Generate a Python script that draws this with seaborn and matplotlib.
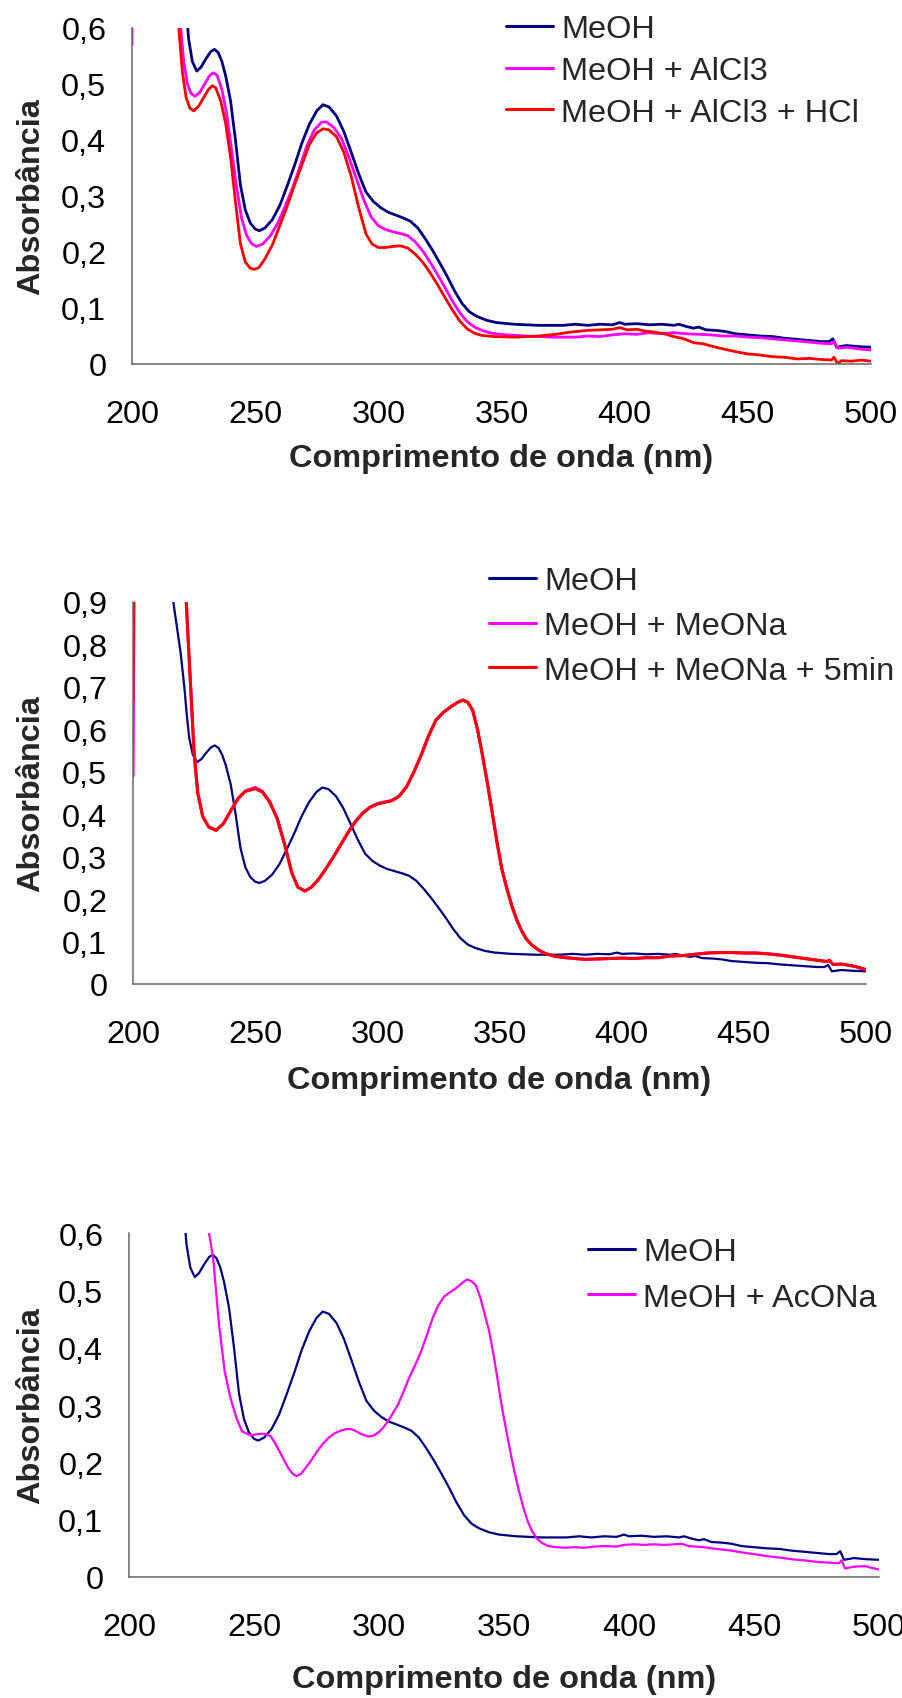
import numpy as np
import pandas as pd
import matplotlib
matplotlib.use("Agg")
import matplotlib.pyplot as plt
import seaborn as sns

# ---------------------------------------------------------------- data
# UV spectrum in methanol (shared by the three panels)
meoh_wl = [214, 216.5, 218, 219.5, 221, 222, 223, 224.5, 226.3, 228, 230, 232, 233.5, 235,
           236.5, 238, 240, 242, 244, 246, 248, 250, 251.7, 254, 257, 260, 263, 266, 269,
           272, 275, 277.5, 280, 283, 286, 289, 292, 295, 298, 301, 304, 307, 310, 313,
           316, 319, 322, 325, 328, 331, 334, 337, 340, 344, 348, 355, 365, 375, 380, 385,
           390, 395, 398, 400, 405, 410, 415, 420, 422, 425, 428, 430, 433, 437, 441, 445,
           450, 455, 460, 465, 470, 475, 480, 483, 484.5, 486, 490, 495, 500]
meoh_abs = [1.05, 0.90, 0.84, 0.78, 0.70, 0.635, 0.580, 0.540, 0.523, 0.530, 0.545, 0.558,
            0.562, 0.556, 0.540, 0.515, 0.470, 0.400, 0.320, 0.275, 0.252, 0.241, 0.238,
            0.243, 0.258, 0.283, 0.318, 0.355, 0.395, 0.428, 0.452, 0.463, 0.459, 0.443,
            0.415, 0.378, 0.340, 0.307, 0.290, 0.279, 0.271, 0.266, 0.261, 0.255, 0.243,
            0.224, 0.203, 0.180, 0.156, 0.130, 0.108, 0.093, 0.085, 0.078, 0.074, 0.071,
            0.069, 0.069, 0.071, 0.069, 0.071, 0.070, 0.074, 0.071, 0.072, 0.070, 0.071,
            0.069, 0.071, 0.067, 0.064, 0.066, 0.061, 0.060, 0.058, 0.054, 0.052, 0.050,
            0.049, 0.046, 0.044, 0.042, 0.040, 0.040, 0.045, 0.030, 0.033, 0.031, 0.030]

# MeOH + AlCl3
alcl3_wl = [200, 201, 216, 218, 219.8, 221, 222.5, 224, 225.6, 227.5, 229.5, 231.5, 233,
            234.5, 236.5, 238.5, 240.5, 242.5, 244.5, 246.5, 248.5, 250.5, 253, 256, 259,
            262, 265, 268, 271, 274, 277, 279, 282, 285, 288, 291, 294, 297, 300, 303, 306,
            309, 312, 315, 318, 321, 324, 327, 330, 333, 336, 339, 342, 346, 352, 360, 370,
            380, 385, 390, 395, 400, 405, 410, 415, 420, 425, 430, 435, 440, 445, 450, 455,
            460, 465, 470, 475, 480, 484, 485, 486.5, 490, 495, 500]
alcl3_abs = [0.57, 1.5, 1.0, 0.75, 0.60, 0.54, 0.50, 0.483, 0.478, 0.485, 0.500, 0.515,
             0.520, 0.516, 0.490, 0.445, 0.380, 0.315, 0.260, 0.230, 0.215, 0.210, 0.214,
             0.228, 0.250, 0.280, 0.312, 0.350, 0.390, 0.418, 0.432, 0.432, 0.422, 0.403,
             0.370, 0.332, 0.294, 0.263, 0.247, 0.240, 0.236, 0.233, 0.229, 0.218, 0.202,
             0.182, 0.160, 0.137, 0.113, 0.092, 0.076, 0.066, 0.060, 0.055, 0.052, 0.050,
             0.048, 0.048, 0.050, 0.049, 0.052, 0.054, 0.053, 0.056, 0.054, 0.056, 0.054,
             0.053, 0.052, 0.050, 0.050, 0.048, 0.047, 0.045, 0.043, 0.041, 0.039, 0.037,
             0.036, 0.040, 0.028, 0.030, 0.027, 0.025]

# MeOH + AlCl3 + HCl
hcl_wl = [210, 216, 217.5, 219, 220.5, 222, 223.5, 225, 227, 229, 231, 232.6, 234, 236,
          238, 240, 242, 244, 246, 248, 249.6, 251.5, 254, 257, 260, 263, 266, 269, 272,
          275, 277.6, 280, 283, 286, 289, 292, 295, 297.5, 300, 303, 306, 309, 312, 315,
          318, 321, 324, 327, 330, 333, 336, 339, 342, 347, 356, 365, 372, 378, 385, 390,
          395, 398, 401, 405, 408, 412, 416, 420, 424, 428, 432, 436, 440, 445, 450, 455,
          460, 465, 470, 475, 480, 484, 485, 486.5, 488, 492, 496, 500]
hcl_abs = [1.3, 0.95, 0.75, 0.60, 0.52, 0.475, 0.457, 0.452, 0.460, 0.475, 0.490, 0.497,
           0.493, 0.470, 0.430, 0.370, 0.290, 0.215, 0.182, 0.171, 0.169, 0.172, 0.188,
           0.213, 0.247, 0.282, 0.320, 0.356, 0.392, 0.413, 0.420, 0.418, 0.406, 0.378,
           0.335, 0.280, 0.232, 0.214, 0.208, 0.208, 0.210, 0.211, 0.207, 0.196, 0.182,
           0.163, 0.142, 0.119, 0.097, 0.077, 0.063, 0.055, 0.051, 0.049, 0.048, 0.050,
           0.053, 0.057, 0.060, 0.061, 0.062, 0.065, 0.061, 0.062, 0.059, 0.057, 0.054,
           0.049, 0.045, 0.038, 0.036, 0.031, 0.027, 0.022, 0.018, 0.016, 0.013, 0.012,
           0.009, 0.010, 0.008, 0.007, 0.012, 0.000, 0.006, 0.005, 0.007, 0.005]

# MeOH + MeONa and MeOH + MeONa after 5 min
meona_wl = [200, 201, 215, 220, 221.8, 223.5, 225, 226.5, 228.5, 231, 234, 237, 240, 243,
            246, 250, 253, 256, 259, 262, 265, 267.5, 270.4, 273, 276, 279, 282, 285, 288,
            291, 294, 297, 300, 303, 306, 309, 312, 315, 318, 321, 324, 327, 330, 333, 335,
            337, 339, 341, 343, 345, 347, 349, 351, 353, 355, 357, 359, 361, 363, 366, 369,
            373, 377, 381, 385, 390, 395, 400, 405, 410, 415, 420, 425, 430, 435, 440, 445,
            450, 455, 460, 465, 470, 475, 480, 484, 485, 486.5, 490, 495, 500]
meona_abs = [0.49, 1.6, 1.2, 0.99, 0.90, 0.71, 0.545, 0.450, 0.395, 0.370, 0.362, 0.378,
             0.408, 0.437, 0.455, 0.463, 0.454, 0.429, 0.390, 0.330, 0.262, 0.228, 0.219,
             0.228, 0.247, 0.272, 0.299, 0.328, 0.357, 0.383, 0.403, 0.417, 0.425, 0.429,
             0.432, 0.443, 0.465, 0.500, 0.540, 0.585, 0.622, 0.640, 0.653, 0.664, 0.669,
             0.664, 0.645, 0.600, 0.540, 0.475, 0.405, 0.333, 0.270, 0.225, 0.185, 0.152,
             0.126, 0.106, 0.093, 0.080, 0.071, 0.065, 0.062, 0.060, 0.058, 0.059, 0.060,
             0.061, 0.060, 0.062, 0.062, 0.066, 0.067, 0.070, 0.073, 0.074, 0.074, 0.073,
             0.073, 0.071, 0.068, 0.064, 0.060, 0.056, 0.053, 0.056, 0.046, 0.047, 0.042,
             0.034]
meona5_abs = [0.67, 1.6, 1.2, 0.99, 0.90, 0.71, 0.545, 0.450, 0.395, 0.370, 0.362, 0.378,
              0.408, 0.437, 0.454, 0.460, 0.452, 0.428, 0.390, 0.330, 0.262, 0.228, 0.219,
              0.228, 0.247, 0.272, 0.299, 0.328, 0.357, 0.382, 0.402, 0.416, 0.424, 0.428,
              0.432, 0.443, 0.465, 0.500, 0.540, 0.585, 0.622, 0.640, 0.653, 0.664, 0.669,
              0.664, 0.645, 0.600, 0.540, 0.475, 0.405, 0.333, 0.270, 0.225, 0.185, 0.152,
              0.126, 0.106, 0.093, 0.080, 0.071, 0.065, 0.062, 0.060, 0.058, 0.059, 0.060,
              0.061, 0.060, 0.062, 0.062, 0.066, 0.067, 0.070, 0.073, 0.074, 0.074, 0.073,
              0.073, 0.071, 0.068, 0.064, 0.060, 0.056, 0.053, 0.056, 0.046, 0.047, 0.042,
              0.034]

# MeOH + AcONa
acona_wl = [226, 230, 232, 233.7, 236, 238.3, 240.6, 243, 245.2, 248.7, 251, 253.3, 255,
            256.8, 258.5, 260.2, 262, 263.7, 265.5, 267, 268.8, 270.6, 273, 275.2, 277.5,
            279.9, 282, 284.5, 287, 289, 291, 293, 296, 298, 300, 302, 304.5, 307.5, 310,
            312, 314.5, 316.8, 319, 321.4, 323.5, 326, 328.5, 330.6, 333, 335.2, 337, 338.7,
            340.5, 342, 344, 345.6, 347.3, 349, 350.8, 352.5, 354.2, 356, 357.8, 359.5,
            361.2, 363, 365, 367.6, 371, 374.5, 378, 382, 386, 390.6, 395, 398, 402, 406,
            410, 414, 418, 421, 424, 427, 430, 433, 437, 441, 445, 450, 455, 460, 465, 470,
            476, 480, 484, 485, 486.4, 490, 494.5, 497, 500]
acona_abs = [1.0, 0.75, 0.60, 0.555, 0.440, 0.358, 0.312, 0.277, 0.254, 0.247, 0.249,
             0.250, 0.249, 0.245, 0.233, 0.219, 0.204, 0.190, 0.180, 0.176, 0.180, 0.190,
             0.204, 0.219, 0.232, 0.243, 0.250, 0.255, 0.258, 0.258, 0.254, 0.249, 0.245,
             0.247, 0.253, 0.262, 0.278, 0.300, 0.325, 0.347, 0.370, 0.393, 0.420, 0.451,
             0.472, 0.489, 0.497, 0.503, 0.512, 0.519, 0.516, 0.509, 0.488, 0.463, 0.430,
             0.393, 0.348, 0.300, 0.258, 0.219, 0.183, 0.150, 0.120, 0.097, 0.080, 0.068,
             0.060, 0.054, 0.052, 0.051, 0.052, 0.051, 0.053, 0.054, 0.053, 0.056, 0.057,
             0.056, 0.057, 0.056, 0.057, 0.058, 0.054, 0.053, 0.052, 0.050, 0.048, 0.046,
             0.043, 0.040, 0.0365, 0.034, 0.031, 0.029, 0.026, 0.025, 0.024, 0.029, 0.015,
             0.018, 0.019, 0.016, 0.013]

x_ticks = [200, 250, 300, 350, 400, 450, 500]
y_ticks_06 = [0, 0.1, 0.2, 0.3, 0.4, 0.5, 0.6]
y_ticks_09 = [0, 0.1, 0.2, 0.3, 0.4, 0.5, 0.6, 0.7, 0.8, 0.9]

NAVY, MAGENTA, RED = "#000080", "#FF00FF", "#FF0000"

# ---------------------------------------------------------------- style
sns.set_style("white")
plt.rcParams["font.family"] = ["Liberation Sans", "DejaVu Sans"]
FS = 23.4

W, H = 902, 1699
fig = plt.figure(figsize=(W / 100, H / 100), dpi=100)


def make_axes(left, right, top, bottom):
    return fig.add_axes([left / W, 1 - bottom / H, (right - left) / W, (bottom - top) / H])


def dec_label(v):
    return "0" if v == 0 else f"{v:.1f}".replace(".", ",")


def style_axes(ax, ymax, yticks, px_box, xlab_off):
    left, right, top, bottom = px_box
    ax.set_xlim(200, 500)
    ax.set_ylim(0, ymax)
    ax.set_xticks(x_ticks)
    ax.set_xticklabels([str(t) for t in x_ticks])
    ax.set_yticks(yticks)
    ax.set_yticklabels([dec_label(t) for t in yticks])
    for s in ("top", "right"):
        ax.spines[s].set_visible(False)
    for s in ("left", "bottom"):
        ax.spines[s].set_color("#666666")
        ax.spines[s].set_linewidth(1.1)
    ax.tick_params(axis="both", direction="out", length=7.5, width=1.1,
                   color="#444444", labelsize=FS, labelcolor="black")
    ax.tick_params(axis="y", pad=11)
    ax.tick_params(axis="x", pad=18)
    ax.grid(False)
    ax.set_facecolor("white")
    ax.set_xlabel("Comprimento de onda (nm)", fontsize=FS, fontweight="bold")
    ax.set_ylabel("Absorbância", fontsize=FS, fontweight="bold")
    h = bottom - top
    w = right - left
    ax.xaxis.set_label_coords(0.5, -xlab_off / h)
    ax.xaxis.label.set_verticalalignment("center")
    ax.yaxis.set_label_coords(-(left - 31) / w, 0.5)
    ax.yaxis.label.set_verticalalignment("center")


def series(ax, wl, ab, color, lw, label):
    df = pd.DataFrame({"wl": wl, "abs": ab})
    sns.lineplot(data=df, x="wl", y="abs", ax=ax, color=color, linewidth=lw,
                 label=label, sort=False, estimator=None)


def place_legend(ax, x_px, yc_px, spacing):
    leg = ax.legend(loc="center left", bbox_to_anchor=(x_px / W, 1 - yc_px / H),
                    bbox_transform=fig.transFigure, frameon=False, fontsize=FS,
                    handlelength=1.45, handletextpad=0.25, labelspacing=spacing,
                    borderpad=0, borderaxespad=0)
    for line in leg.get_lines():
        line.set_linewidth(2.2)


# ---------------------------------------------------------------- panel 1: AlCl3 / HCl
box1 = (132, 871, 29, 365)
ax1 = make_axes(*box1)
series(ax1, meoh_wl, meoh_abs, NAVY, 2.0, "MeOH")
series(ax1, alcl3_wl, alcl3_abs, MAGENTA, 2.0, "MeOH + AlCl3")
series(ax1, hcl_wl, hcl_abs, RED, 2.0, "MeOH + AlCl3 + HCl")
style_axes(ax1, 0.6, y_ticks_06, box1, 94)
place_legend(ax1, 506, 72, 0.36)

# ---------------------------------------------------------------- panel 2: MeONa
box2 = (133, 866, 603, 985)
ax2 = make_axes(*box2)
series(ax2, meoh_wl, meoh_abs, NAVY, 1.6, "MeOH")
series(ax2, meona_wl, meona_abs, MAGENTA, 2.2, "MeOH + MeONa")
series(ax2, meona_wl, meona5_abs, RED, 2.2, "MeOH + MeONa + 5min")
style_axes(ax2, 0.9, y_ticks_09, box2, 96)
place_legend(ax2, 489, 627, 0.45)

# ---------------------------------------------------------------- panel 3: AcONa
box3 = (129, 879, 1234, 1578)
ax3 = make_axes(*box3)
series(ax3, meoh_wl, meoh_abs, NAVY, 1.6, "MeOH")
series(ax3, acona_wl, acona_abs, MAGENTA, 1.6, "MeOH + AcONa")
style_axes(ax3, 0.6, y_ticks_06, box3, 102)
place_legend(ax3, 588, 1276, 0.47)

fig.savefig("out.png", dpi=100, facecolor="white")
